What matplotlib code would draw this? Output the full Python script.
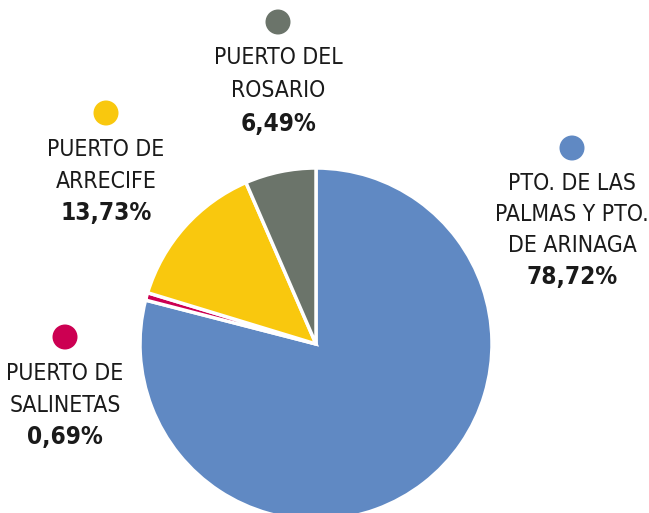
import matplotlib
matplotlib.use("Agg")
import matplotlib.pyplot as plt
from matplotlib.patches import Ellipse

ports = ["PTO. DE LAS\nPALMAS Y PTO.\nDE ARINAGA", "PUERTO DE\nSALINETAS",
         "PUERTO DE\nARRECIFE", "PUERTO DEL\nROSARIO"]
shares = [78.72, 0.69, 13.73, 6.49]
colors = ["#6089C3", "#CC0052", "#F9C80E", "#6B746A"]

plt.rcParams["font.family"] = ["DejaVu Sans"]

W, H = 649, 513
fig = plt.figure(figsize=(W / 100, H / 100), dpi=100)

# pie centre (316, 344) px, radius 176 px
cx, cy, r = 316, 344, 176
ax = fig.add_axes([(cx - r) / W, (H - cy - r) / H, 2 * r / W, 2 * r / H])
ax.pie(shares, colors=colors, startangle=90, counterclock=False,
       wedgeprops=dict(edgecolor="white", linewidth=2.5))
ax.set_xlim(-1, 1)
ax.set_ylim(-1, 1)
ax.set_aspect("equal")
ax.axis("off")

# label anchor: marker centre x, y (px from top), line step
label_pos = [(572, 148, 31), (65, 337, 32), (106, 113, 32), (278, 22, 33)]

for port, share, col, (lx, ly, step) in zip(ports, shares, colors, label_pos):
    fig.patches.append(Ellipse((lx / W, 1 - ly / H), 25 / W, 25 / H,
                               transform=fig.transFigure, facecolor=col, edgecolor="none"))
    y = ly + 36
    for line in port.split("\n"):
        fig.text(lx / W, 1 - y / H, line, ha="center", va="center",
                 fontsize=16.5, fontstretch="condensed", color="#1a1a1a")
        y += step
    pct = f"{share:.2f}%".replace(".", ",")
    fig.text(lx / W, 1 - y / H, pct, ha="center", va="center",
             fontsize=17.5, fontweight="bold", fontstretch="condensed", color="#1a1a1a")

fig.savefig("out.png", dpi=100)
